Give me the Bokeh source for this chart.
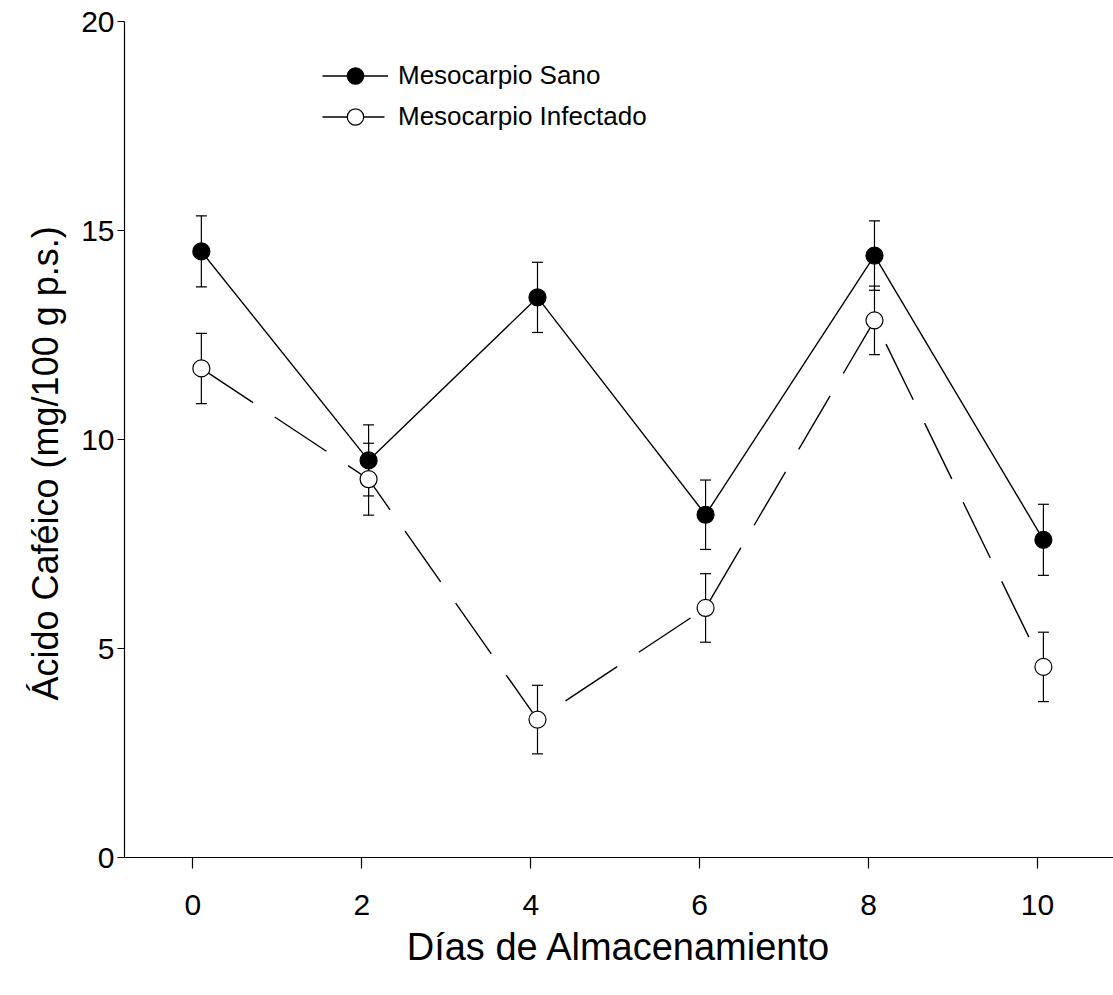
from bokeh.plotting import figure
from bokeh.models import (ColumnDataSource, Whisker, TeeHead, Legend, LegendItem,
                          Range1d, FixedTicker, Title)
from bokeh.embed import file_html
from bokeh.resources import INLINE

# Data (x positions are slightly right of the ticks in the original)
dias = [0.1, 2.08, 4.08, 6.07, 8.07, 10.07]
sano = [14.5, 9.5, 13.4, 8.2, 14.4, 7.6]
sano_err = [0.85, 0.85, 0.84, 0.83, 0.83, 0.85]
infectado = [11.7, 9.05, 3.3, 5.97, 12.85, 4.56]
infectado_err = [0.84, 0.86, 0.82, 0.82, 0.82, 0.83]
x_ticks = [0, 2, 4, 6, 8, 10]
y_ticks = [0, 5, 10, 15, 20]

FONT = "Liberation Sans"

src_s = ColumnDataSource(dict(x=dias, y=sano,
                              lo=[v - e for v, e in zip(sano, sano_err)],
                              hi=[v + e for v, e in zip(sano, sano_err)]))
src_i = ColumnDataSource(dict(x=dias, y=infectado,
                              lo=[v - e for v, e in zip(infectado, infectado_err)],
                              hi=[v + e for v, e in zip(infectado, infectado_err)]))

p = figure(width=1113, height=995, output_backend="svg", toolbar_location=None,
           x_range=Range1d(-0.81, 10.9), y_range=Range1d(0, 20),
           min_border_left=124, min_border_right=0, min_border_top=21,
           min_border_bottom=138)
p.outline_line_color = None
p.xgrid.visible = False
p.ygrid.visible = False
p.background_fill_color = "white"
p.border_fill_color = "white"

# error bars
for src in (src_s, src_i):
    w = Whisker(source=src, base="x", lower="lo", upper="hi", dimension="height",
                line_color="black", line_width=1.2,
                upper_head=TeeHead(size=11, line_color="black", line_width=1.2),
                lower_head=TeeHead(size=11, line_color="black", line_width=1.2))
    p.add_layout(w)

l_s = p.line("x", "y", source=src_s, line_color="black", line_width=1.4)
l_i = p.line("x", "y", source=src_i, line_color="black", line_width=1.4,
             line_dash="62 26")
c_s = p.scatter("x", "y", source=src_s, size=17, fill_color="black",
                line_color="black", line_width=1.2)
c_i = p.scatter("x", "y", source=src_i, size=17, fill_color="white",
                line_color="black", line_width=1.2)

# axes
for ax in (p.xaxis[0], p.yaxis[0]):
    ax.axis_line_color = "black"
    ax.axis_line_width = 1.2
    ax.major_tick_line_color = "black"
    ax.major_tick_line_width = 1.2
    ax.minor_tick_line_color = None
    ax.major_tick_in = 0
    ax.major_label_text_font = FONT
    ax.major_label_text_font_size = "30px"
    ax.major_label_text_color = "black"
    ax.axis_label_text_font = FONT
    ax.axis_label_text_font_style = "normal"
    ax.axis_label_text_color = "black"

p.xaxis.ticker = FixedTicker(ticks=x_ticks)
p.yaxis.ticker = FixedTicker(ticks=y_ticks)
p.xaxis.major_tick_out = 11
p.yaxis.major_tick_out = 7
p.xaxis.major_label_standoff = 26
p.yaxis.major_label_standoff = 3
p.xaxis.axis_label = "Días de Almacenamiento"
p.xaxis.axis_label_text_font_size = "38px"
p.xaxis.axis_label_standoff = 8

ytitle = Title(text="Ácido Caféico (mg/100 g p.s.)", align="left", offset=157,
               text_font=FONT, text_font_size="36px", text_font_style="normal",
               text_color="black", standoff=26)
p.add_layout(ytitle, "left")

legend = Legend(items=[LegendItem(label="Mesocarpio Sano", renderers=[l_s, c_s]),
                       LegendItem(label="Mesocarpio Infectado", renderers=[l_i, c_i])],
                location=(198, 720), padding=0, margin=0, spacing=0,
                glyph_width=66, glyph_height=41, label_height=41,
                label_standoff=10, label_text_font=FONT,
                label_text_font_size="26px", label_text_color="black",
                border_line_color=None, background_fill_alpha=0)
p.add_layout(legend)

open("out.html", "w").write(file_html(p, INLINE))
